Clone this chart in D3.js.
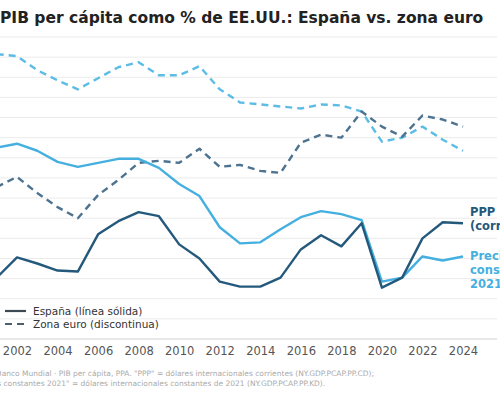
<!DOCTYPE html>
<html><head><meta charset="utf-8">
<script src="https://cdn.jsdelivr.net/npm/d3@7"></script>
<style>body{margin:0;background:#fff}svg{display:block;font-family:"DejaVu Sans",sans-serif}</style>
</head><body><svg id="c" width="500" height="400"></svg>
<script>
const years = d3.range(2001, 2025);
const espanaConst = [59.0,59.4,58.7,57.6,57.1,57.5,57.9,57.9,57.0,55.4,54.2,51.1,49.5,49.6,50.9,52.1,52.7,52.4,51.8,45.7,46.1,48.2,47.8,48.2];
const espanaPPP   = [46.1,48.1,47.5,46.8,46.7,50.4,51.7,52.6,52.2,49.4,48.0,45.7,45.2,45.2,46.1,48.9,50.3,49.2,51.5,45.1,46.1,50.0,51.6,51.5];
const euroConst   = [68.3,68.1,66.7,65.7,64.8,65.9,67.0,67.5,66.2,66.2,67.1,64.8,63.5,63.3,63.1,62.9,63.3,63.2,62.6,59.6,60.0,61.1,59.8,58.7];
const euroPPP     = [55.1,56.1,54.5,53.1,52.0,54.3,55.8,57.5,57.7,57.5,58.9,57.1,57.3,56.7,56.5,59.5,60.3,60.0,62.6,61.1,60.1,62.2,61.8,61.1];
const xTicks = d3.range(2002, 2025, 2);
const yGrid = d3.range(40, 71, 2);

const svg = d3.select("#c");
const x = d3.scaleLinear().domain([2002, 2024]).range([17, 463]);
const y = d3.scaleLinear().domain([40, 70]).range([339, 37]);
const dark = "#24597c", darkD = "#4d7390", light = "#45b0e0", lightD = "#5cbce6";

svg.append("text").attr("x", 0).attr("y", 23).attr("font-size", 15.5).attr("font-weight", "bold").attr("fill", "#222")
  .text("PIB per cápita como % de EE.UU.: España vs. zona euro");

svg.append("g").selectAll("line").data(yGrid.slice(1)).join("line")
  .attr("x1", 0).attr("x2", 497).attr("y1", d => y(d)).attr("y2", d => y(d))
  .attr("stroke", "#ebebeb").attr("stroke-width", 1);

const ax = svg.append("g").attr("transform", "translate(0,339)")
  .call(d3.axisBottom(x).tickValues(xTicks).tickFormat(d3.format("d")).tickSize(0).tickPadding(8));
ax.select(".domain").attr("stroke", "#d0d0d0").attr("d", "M0,0H497");
ax.selectAll("text").attr("font-size", 11.5).attr("fill", "#555").attr("font-family", "DejaVu Sans");

const line = d3.line().x((d, i) => x(years[i])).y(d => y(d));
const series = [
  [euroConst, lightD, "7,5"],
  [euroPPP, darkD, "7,5"],
  [espanaConst, light, null],
  [espanaPPP, dark, null]
];
series.forEach(([data, col, dash]) => {
  svg.append("path").datum(data).attr("d", line).attr("fill", "none")
    .attr("stroke", col).attr("stroke-width", 2.4).attr("stroke-linejoin", "round")
    .attr("stroke-dasharray", dash);
});

const lab = (lines, y0, col) => lines.forEach((t, i) =>
  svg.append("text").attr("x", 470).attr("y", y0 + i * 14).attr("font-size", 11.5)
    .attr("font-weight", "bold").attr("fill", col).text(t));
lab(["PPP", "(corrientes)"], 216, dark);
lab(["Precios", "constantes", "2021"], 260, light);

svg.append("line").attr("x1", 5).attr("x2", 26).attr("y1", 311).attr("y2", 311).attr("stroke", "#3b4a57").attr("stroke-width", 2.2);
svg.append("line").attr("x1", 5).attr("x2", 26).attr("y1", 324).attr("y2", 324).attr("stroke", "#4d5e6c").attr("stroke-width", 2.2).attr("stroke-dasharray", "7,5");
svg.append("text").attr("x", 33).attr("y", 315).attr("font-size", 10.5).attr("fill", "#333").text("España (línea sólida)");
svg.append("text").attr("x", 33).attr("y", 328).attr("font-size", 10.5).attr("fill", "#333").text("Zona euro (discontinua)");

svg.append("text").attr("x", -34).attr("y", 376).attr("font-size", 7.5).attr("fill", "#aaa")
  .text("Fuente: Banco Mundial · PIB per cápita, PPA.  \"PPP\" = dólares internacionales corrientes (NY.GDP.PCAP.PP.CD);");
svg.append("text").attr("x", -29).attr("y", 386).attr("font-size", 7.5).attr("fill", "#aaa")
  .text("\"Precios constantes 2021\" = dólares internacionales constantes de 2021 (NY.GDP.PCAP.PP.KD).");
</script></body></html>
